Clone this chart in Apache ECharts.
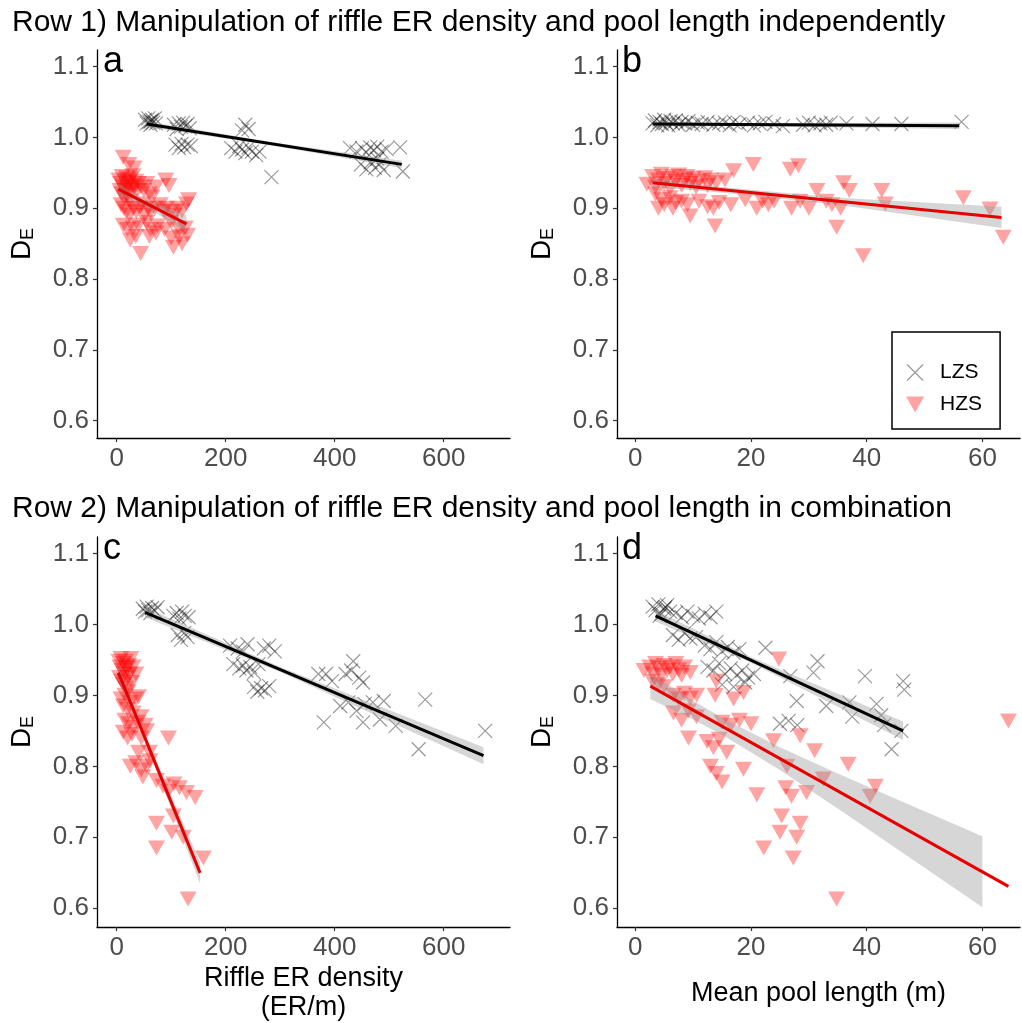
<!DOCTYPE html>
<html><head><meta charset="utf-8">
<script src="https://cdn.jsdelivr.net/npm/echarts@6/dist/echarts.min.js"></script>
<style>html,body{margin:0;padding:0;background:#fff}#chart{width:1022px;height:1023px}</style>
</head><body><div id="chart"></div>
<script>
// ---------- tick labels ----------
const xTicksER = [0, 200, 400, 600];
const xTicksPool = [0, 20, 40, 60];
const yTicks = [0.6, 0.7, 0.8, 0.9, 1.0, 1.1];

// ---------- titles ----------
const row1Title = 'Row 1) Manipulation of riffle ER density and pool length independently';
const row2Title = 'Row 2) Manipulation of riffle ER density and pool length in combination';
const panelLetters = ['a', 'b', 'c', 'd'];
const xNameER = 'Riffle ER density\n(ER/m)';
const xNamePool = 'Mean pool length (m)';
const seriesNames = ['LZS', 'HZS'];

// ---------- panel a (riffle ER density, independent) ----------
const aLZS = [[52,1.025],[55,1.02],[58,1.027],[60,1.022],[62,1.018],[65,1.025],[67,1.021],[70,1.027],[72,1.02],[63,1.023],
[105,1.018],[110,1.012],[114,1.02],[118,1.015],[122,1.021],[126,1.016],[130,1.019],[134,1.013],
[108,0.99],[114,0.985],[119,0.991],[124,0.986],[130,0.99],[136,0.988],
[210,0.985],[218,0.98],[225,0.988],[230,0.983],[236,0.978],[242,0.986],[248,0.98],[256,0.975],[262,0.98],[230,1.01],[236,1.018],[242,1.012],
[284,0.944],
[428,0.985],[440,0.98],[450,0.985],[458,0.979],[465,0.986],[472,0.982],[478,0.987],[486,0.98],[495,0.984],[520,0.986],
[448,0.962],[458,0.955],[466,0.965],[474,0.957],[482,0.962],[490,0.954],[525,0.952],[478,0.97]];
const aHZS = [[4,0.94],[7,0.935],[10,0.945],[12,0.93],[15,0.938],[18,0.943],[20,0.928],[22,0.936],[25,0.941],[28,0.932],[30,0.946],[6,0.925],[9,0.92],[14,0.915],[17,0.925],[20,0.918],[24,0.91],[27,0.922],[32,0.93],[35,0.938],[38,0.925],[40,0.935],
[12,0.972],[22,0.962],[32,0.957],
[45,0.93],[50,0.925],[55,0.935],[60,0.92],[65,0.916],[72,0.93],[90,0.94],[96,0.932],
[8,0.905],[13,0.9],[18,0.895],[24,0.89],[30,0.9],[36,0.895],[42,0.9],[46,0.906],[52,0.89],[57,0.9],[62,0.895],[70,0.9],[80,0.905],[86,0.896],[92,0.9],[100,0.895],[106,0.89],[112,0.9],[120,0.896],[128,0.906],[132,0.912],
[12,0.876],[20,0.87],[30,0.872],[40,0.876],[55,0.88],[62,0.87],[75,0.875],[88,0.87],[100,0.88],[115,0.87],[126,0.872],
[25,0.855],[35,0.86],[60,0.86],[72,0.865],[100,0.858],[115,0.86],[130,0.862],
[44,0.836],[104,0.845],[120,0.85]];
const aFitLZS = [[55,1.019],[523,0.962]];
const aFitHZS = [[3,0.927],[128,0.878]];
const aBandLZS = [[55,1.015,1.023],[290,0.988,0.993],[523,0.957,0.967]];
const aBandHZS = [[3,0.919,0.935],[50,0.904,0.913],[128,0.866,0.890]];

// ---------- panel b (mean pool length, independent) ----------
const bLZS = [[3,1.02],[3.4,1.024],[3.8,1.017],[4.2,1.022],[4.6,1.019],[5,1.025],[5.3,1.021],[5.7,1.017],[6.1,1.023],[6.5,1.02],[7,1.024],[7.5,1.018],[8,1.022],[8.6,1.02],[9.2,1.023],[10,1.018],[10.8,1.021],[11.5,1.019],[12.5,1.022],[13.5,1.018],[14.5,1.02],[15.5,1.021],[16.3,1.017],[17,1.022],[18,1.019],[19.5,1.021],[20.5,1.017],[21.5,1.02],[22.5,1.022],[24,1.019],[25.5,1.016],[29,1.018],[30,1.021],[31,1.017],[32,1.02],[33,1.018],[33.8,1.021],[36.5,1.02],[41,1.019],[46,1.019],[56.4,1.022]];
const bHZS = [[2,0.934],[3,0.945],[3.5,0.93],[4,0.94],[4.5,0.948],[5,0.935],[5.5,0.942],[6,0.928],[6.5,0.945],[7,0.938],[7.5,0.947],[8,0.932],[8.5,0.94],[9,0.945],[9.5,0.935],[10,0.942],[10.5,0.93],[11,0.938],[12,0.943],[12.5,0.932],[13,0.94],[14,0.936],[3.5,0.92],[4.5,0.912],[5,0.905],[6,0.915],[7,0.908],[8,0.91],[9,0.905],[4,0.9],[6.5,0.9],[11,0.91],[12.5,0.902],[13.5,0.9],[14.5,0.908],[15.5,0.94],[16.5,0.905],[17,0.953],[9.5,0.889],[13.8,0.875],
[19,0.912],[20.4,0.962],[21,0.9],[22,0.91],[23,0.905],[24,0.91],[26.8,0.955],[28.2,0.96],[27,0.9],[28.5,0.91],[30,0.9],[31.4,0.925],[33,0.91],[34,0.905],[34.8,0.873],[35.5,0.9],[36,0.936],[37,0.925],[39.4,0.833],[42.6,0.925],[43.2,0.906],[56.7,0.915],[61.3,0.899],[63.6,0.859]];
const bFitLZS = [[3,1.019],[56,1.0165]];
const bFitHZS = [[3,0.936],[63.3,0.887]];
const bBandLZS = [[3,1.016,1.022],[20,1.016,1.020],[56,1.012,1.021]];
const bBandHZS = [[3,0.930,0.942],[15,0.922,0.930],[35,0.905,0.915],[63.3,0.872,0.902]];

// ---------- panel c (riffle ER density, combined) ----------
const cLZS = [[48,1.022],[52,1.018],[55,1.025],[58,1.02],[62,1.016],[65,1.023],[70,1.019],[75,1.024],
[104,1.012],[110,1.016],[115,1.008],[120,1.018],[125,1.012],[132,1.01],
[112,0.985],[118,0.978],[124,0.988],[130,0.982],
[208,0.97],[222,0.966],[232,0.962],[240,0.972],[270,0.966],[280,0.97],[290,0.962],
[214,0.944],[225,0.938],[232,0.942],[238,0.935],[245,0.94],[252,0.932],[260,0.944],
[252,0.912],[258,0.905],[265,0.91],[272,0.907],[280,0.913],
[370,0.93],[384,0.93],[395,0.92],[420,0.93],[430,0.935],[434,0.948],[445,0.925],[452,0.918],
[380,0.862],[452,0.862],[410,0.885],[425,0.89],[440,0.878],[455,0.888],[470,0.89],
[490,0.892],[483,0.866],[512,0.857],[566,0.894],[554,0.824],[676,0.85]];
const cHZS = [[4,0.948],[6,0.94],[8,0.952],[10,0.935],[12,0.945],[14,0.93],[16,0.948],[18,0.938],[20,0.925],[22,0.942],[24,0.93],[26,0.952],[5,0.925],[9,0.92],[13,0.915],[17,0.91],[21,0.905],[28,0.918],[30,0.94],[35,0.93],
[8,0.895],[12,0.885],[15,0.9],[20,0.88],[25,0.89],[30,0.875],[35,0.895],[40,0.898],[15,0.865],[22,0.86],[30,0.855],[38,0.862],[45,0.87],[52,0.858],[12,0.848],[20,0.84],[28,0.845],[45,0.84],[55,0.85],[95,0.84],
[25,0.8],[35,0.805],[45,0.795],[55,0.8],[61,0.808],[40,0.82],[60,0.82],[48,0.785],
[73,0.78],[85,0.772],[95,0.765],[105,0.775],[115,0.77],[128,0.763],[144,0.756],
[73,0.72],[104,0.73],[101,0.707],[122,0.7],[73,0.685],[159,0.671],[131,0.613]];
const cFitLZS = [[52,1.017],[673,0.815]];
const cFitHZS = [[3,0.932],[153,0.65]];
const cBandLZS = [[52,1.010,1.024],[300,0.933,0.940],[673,0.803,0.827]];
const cBandHZS = [[3,0.922,0.942],[50,0.840,0.848],[153,0.635,0.665]];

// ---------- panel d (mean pool length, combined) ----------
const dLZS = [[3,1.025],[3.5,1.02],[4,1.028],[4.5,1.015],[5,1.022],[5.5,1.027],[6,1.018],[4.2,1.012],[5.2,1.024],
[7,1.016],[8,1.01],[9,1.018],[10,1.012],[11,1.008],[12,1.015],[13,1.01],[14,1.018],
[6.5,0.985],[7.5,0.978],[8.5,0.988],[9.5,0.98],[10.5,0.982],
[12,0.97],[13,0.965],[14,0.975],[15,0.962],[16,0.968],[17,0.96],[18,0.965],
[12.5,0.94],[13.5,0.935],[14.5,0.945],[15.5,0.93],[16.5,0.938],[17.5,0.928],[18.5,0.935],[19.5,0.925],[20.5,0.93],[15,0.915],[17,0.912],[19,0.918],
[22.5,0.967],[26.8,0.927],[27.9,0.892],[25,0.86],[26.5,0.864],[28,0.858],
[30.8,0.932],[31.5,0.948],[33,0.885],[37,0.89],[37.5,0.87],[39.7,0.927],[41.7,0.888],[42.5,0.872],[43,0.858],[44.3,0.824],[46.3,0.92],[46.5,0.908],[46,0.85]];
const dHZS = [[1.5,0.935],[2.5,0.94],[3,0.93],[3.5,0.945],[4,0.938],[4.5,0.928],[5,0.942],[5.5,0.935],[6,0.94],[6.5,0.93],[7,0.945],[7.5,0.936],[8,0.928],[8.5,0.94],[9.5,0.932],[3,0.92],[4,0.915],[5,0.912],
[24.8,0.951],[14,0.92],
[6.6,0.9],[7.5,0.895],[8.5,0.903],[9.5,0.896],[10.6,0.9],[13.8,0.9],[18.7,0.904],[17,0.895],
[6.6,0.875],[8,0.865],[9.2,0.878],[10.6,0.87],[9.2,0.84],
[15,0.862],[16.5,0.858],[18,0.865],[20,0.86],
[12.4,0.835],[13.5,0.826],[14.5,0.838],[15.8,0.82],
[13,0.8],[14,0.79],[15,0.778],[18.7,0.796],
[23.9,0.836],[28.5,0.843],[31,0.822],[26.2,0.8],
[21,0.76],[26,0.77],[27,0.758],[29.6,0.763],[32.5,0.782],[36.8,0.803],[40.6,0.758],[41.5,0.772],
[25.3,0.73],[28.5,0.72],[25,0.707],[27.9,0.7],[22.2,0.685],[27.3,0.671],[64.5,0.864],[34.8,0.613]];
const dFitLZS = [[3.5,1.012],[46.3,0.85]];
const dFitHZS = [[2.6,0.913],[64.5,0.631]];
const dBandLZS = [[3.5,1.004,1.020],[20,0.946,0.954],[46.3,0.837,0.863]];
const dBandHZS = [[2.6,0.895,0.931],[10,0.866,0.8925],[15,0.8445,0.8685],[25,0.795,0.827],[35,0.7407,0.790],[45,0.685,0.7544],[60,0.6015,0.7015]];

// ---------- build ----------
const FONT = '"Liberation Sans", Arial, sans-serif';
const X_PATH = 'path://M0,0L10,10M10,0L0,10';
const TRI_PATH = 'path://M0,0L10,0L5,8.8Z';
const LZS_STYLE = {color: 'rgba(0,0,0,0)', borderColor: 'rgba(0,0,0,0.5)', borderWidth: 1.2};
const HZS_STYLE = {color: 'rgba(255,0,0,0.45)', borderWidth: 0};

const panels = [
  {lzs: aLZS, hzs: aHZS, fitL: aFitLZS, fitH: aFitHZS, bandL: aBandLZS, bandH: aBandHZS},
  {lzs: bLZS, hzs: bHZS, fitL: bFitLZS, fitH: bFitHZS, bandL: bBandLZS, bandH: bBandHZS},
  {lzs: cLZS, hzs: cHZS, fitL: cFitLZS, fitH: cFitHZS, bandL: cBandLZS, bandH: cBandHZS},
  {lzs: dLZS, hzs: dHZS, fitL: dFitLZS, fitH: dFitHZS, bandL: dBandLZS, bandH: dBandHZS}
];

const grids = [
  {left: 97, top: 50, width: 413, height: 388},
  {left: 617, top: 50, width: 403, height: 388},
  {left: 97, top: 537, width: 413, height: 390},
  {left: 617, top: 537, width: 403, height: 390}
];
const xRanges = [[-36.1, 721.6], [-3.16, 66.5], [-36.1, 721.6], [-3.16, 66.5]];
const yRanges = [[0.5754, 1.1236], [0.5754, 1.1236], [0.5737, 1.123], [0.5737, 1.123]];
const xTickSets = [xTicksER, xTicksPool, xTicksER, xTicksPool];
const xNames = ['', '', xNameER, xNamePool];
const xNameGaps = [0, 0, 37, 52];

const xAxis = grids.map((g, i) => ({
  type: 'value', gridIndex: i, min: xRanges[i][0], max: xRanges[i][1],
  axisLine: {show: true, onZero: false, lineStyle: {color: '#000', width: 1.3}},
  axisTick: {show: true, customValues: xTickSets[i], length: 4, lineStyle: {color: '#333', width: 1.2}},
  axisLabel: {customValues: xTickSets[i], fontSize: 26, color: '#4D4D4D', fontFamily: FONT, margin: 8},
  splitLine: {show: false},
  name: xNames[i], nameLocation: 'middle', nameGap: xNameGaps[i],
  nameTextStyle: {fontSize: 27, color: '#000', fontFamily: FONT, lineHeight: 29}
}));

const yAxis = grids.map((g, i) => ({
  type: 'value', gridIndex: i, min: yRanges[i][0], max: yRanges[i][1],
  axisLine: {show: true, onZero: false, lineStyle: {color: '#000', width: 1.3}},
  axisTick: {show: true, customValues: yTicks, length: 4, lineStyle: {color: '#333', width: 1.2}},
  axisLabel: {customValues: yTicks, fontSize: 26, color: '#4D4D4D', fontFamily: FONT, margin: 8,
    formatter: v => Number(v).toFixed(1)},
  splitLine: {show: false},
  name: '{d|D}{e|E}', nameLocation: 'middle', nameGap: 60, nameRotate: 90,
  nameTextStyle: {color: '#000', fontFamily: FONT, rich: {
    d: {fontSize: 28, fontFamily: FONT, color: '#000', lineHeight: 30},
    e: {fontSize: 18, fontFamily: FONT, color: '#000', lineHeight: 18, verticalAlign: 'bottom'}
  }}
}));

function bandSeries(i, band) {
  return {
    type: 'custom', xAxisIndex: i, yAxisIndex: i, data: band, encode: {x: 0, y: [1, 2]},
    silent: true, z: 3,
    renderItem: function (params, api) {
      if (params.dataIndex !== 0) return null;
      const upper = band.map(d => api.coord([d[0], d[2]]));
      const lower = band.slice().reverse().map(d => api.coord([d[0], d[1]]));
      return {type: 'polygon', shape: {points: upper.concat(lower)}, style: {fill: 'rgba(153,153,153,0.4)'}};
    }
  };
}
function fitSeries(i, fit, color) {
  return {type: 'line', xAxisIndex: i, yAxisIndex: i, data: fit, symbol: 'none', silent: true, z: 4,
    lineStyle: {color: color, width: 3}};
}

const series = [];
panels.forEach((p, i) => {
  series.push({type: 'scatter', name: seriesNames[0], xAxisIndex: i, yAxisIndex: i, data: p.lzs,
    symbol: X_PATH, symbolSize: [14, 14], itemStyle: LZS_STYLE, z: 2, silent: true});
  series.push({type: 'scatter', name: seriesNames[1], xAxisIndex: i, yAxisIndex: i, data: p.hzs,
    symbol: TRI_PATH, symbolSize: [17, 15], itemStyle: HZS_STYLE, z: 2, silent: true});
  series.push(bandSeries(i, p.bandL));
  series.push(bandSeries(i, p.bandH));
  series.push(fitSeries(i, p.fitL, '#000'));
  series.push(fitSeries(i, p.fitH, '#E60000'));
});

const graphic = [
  {type: 'text', left: 12, top: 8, style: {text: row1Title, font: '30px ' + FONT, fill: '#000'}},
  {type: 'text', left: 12, top: 494, style: {text: row2Title, font: '30px ' + FONT, fill: '#000'}}
];
const letterPos = [[103, 44], [622, 44], [103, 531], [622, 531]];
panelLetters.forEach((t, i) => {
  graphic.push({type: 'text', left: letterPos[i][0], top: letterPos[i][1],
    style: {text: t, font: '36px ' + FONT, fill: '#000'}});
});

const chart = echarts.init(document.getElementById('chart'), null, {renderer: 'canvas'});
chart.setOption({
  animation: false,
  backgroundColor: '#fff',
  grid: grids,
  xAxis: xAxis,
  yAxis: yAxis,
  series: series,
  graphic: graphic,
  legend: {
    orient: 'vertical', left: 892, top: 332, selectedMode: false,
    padding: [30, 18, 14, 14], itemWidth: 24, itemHeight: 16, itemGap: 11,
    borderColor: '#000', borderWidth: 1.5, backgroundColor: '#fff',
    textStyle: {fontSize: 21, color: '#000', fontFamily: FONT, padding: [0, 0, 0, 8]},
    data: [
      {name: seriesNames[0], icon: X_PATH, itemStyle: LZS_STYLE},
      {name: seriesNames[1], icon: TRI_PATH, itemStyle: HZS_STYLE}
    ]
  }
});
</script></body></html>
